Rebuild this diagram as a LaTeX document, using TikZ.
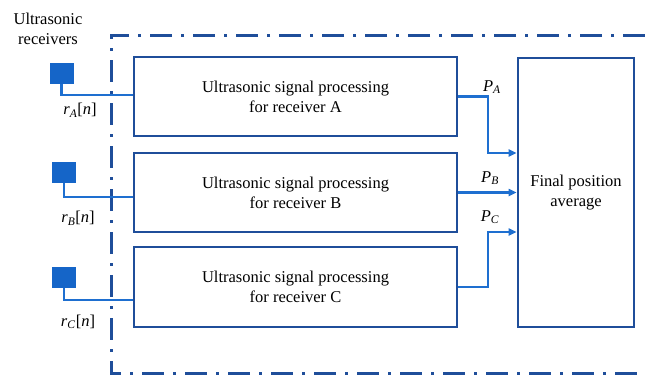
\documentclass[tikz,border=0pt]{standalone}
\usepackage{fontspec}
\setmainfont{Liberation Serif}
\usetikzlibrary{arrows.meta}
\definecolor{boxblue}{HTML}{1F4E9A}
\definecolor{linkblue}{HTML}{1E6FD0}
\definecolor{sqblue}{HTML}{1565C8}
\tikzset{
  procbox/.style={draw=boxblue, line width=2.8pt, fill=white, inner sep=0pt, align=center, font=\fontsize{16.5}{20}\selectfont},
  recv/.style={fill=sqblue, draw=none, minimum width=24pt, minimum height=21pt, inner sep=0pt},
  link/.style={draw=linkblue, line width=2.4pt},
  arr/.style={link, -{Triangle[length=8pt,width=7pt]}},
  lbl/.style={font=\fontsize{16.5}{20}\selectfont, inner sep=0pt},
  frame/.style={draw=boxblue, line width=3pt, dash pattern=on 22pt off 9pt on 3pt off 9pt}
}
\begin{document}
\begin{tikzpicture}[x=1pt,y=-1pt]
\useasboundingbox (0,0) rectangle (645,376);
% frame
\draw[frame] (645,35) -- (111,35) -- (111,373) -- (645,373);
% boxes
\node[procbox, minimum width=323pt, minimum height=79pt] (boxA) at (295.5,96.5) {Ultrasonic signal processing\\for receiver A};
\node[procbox, minimum width=323pt, minimum height=79pt] (boxB) at (295.5,192.5) {Ultrasonic signal processing\\for receiver B};
\node[procbox, minimum width=323pt, minimum height=80pt] (boxC) at (295.5,287) {Ultrasonic signal processing\\for receiver C};
\node[procbox, minimum width=116pt, minimum height=269pt] (fin) at (576,192.5) {Final position\\average};
% receivers
\node[recv] (sqA) at (61.5,73) {};
\node[recv] (sqB) at (64,172.5) {};
\node[recv] (sqC) at (64,277) {};
\node[lbl, align=center] (title) at (48,29) {Ultrasonic\\receivers};
\coordinate (jA) at (0,95);
\coordinate (jB) at (0,197);
\coordinate (jC) at (0,300);
\draw[link] (sqA.south) |- (boxA.west |- jA);
\draw[link] (sqB.south) |- (boxB.west |- jB);
\draw[link] (sqC.south) |- (boxC.west |- jC);
\node[lbl] (rA) at (80,110) {\textit{r}\textsubscript{\textit{A}}[\textit{n}]};
\node[lbl] (rB) at (78,218) {\textit{r}\textsubscript{\textit{B}}[\textit{n}]};
\node[lbl] (rC) at (78,322) {\textit{r}\textsubscript{\textit{C}}[\textit{n}]};
% outputs
\coordinate (tA) at (0,153);
\coordinate (tC) at (0,232);
\draw[arr] (boxA.east) -| (488,125) |- (fin.west |- tA);
\draw[arr] (boxB.east) -- (fin.west |- boxB.east);
\draw[arr] (boxC.east) -| (488,260) |- (fin.west |- tC);
\node[lbl] (pA) at (492,87) {\textit{P}\textsubscript{\textit{A}}};
\node[lbl] (pB) at (490,178) {\textit{P}\textsubscript{\textit{B}}};
\node[lbl] (pC) at (490,217) {\textit{P}\textsubscript{\textit{C}}};
\end{tikzpicture}
\end{document}
